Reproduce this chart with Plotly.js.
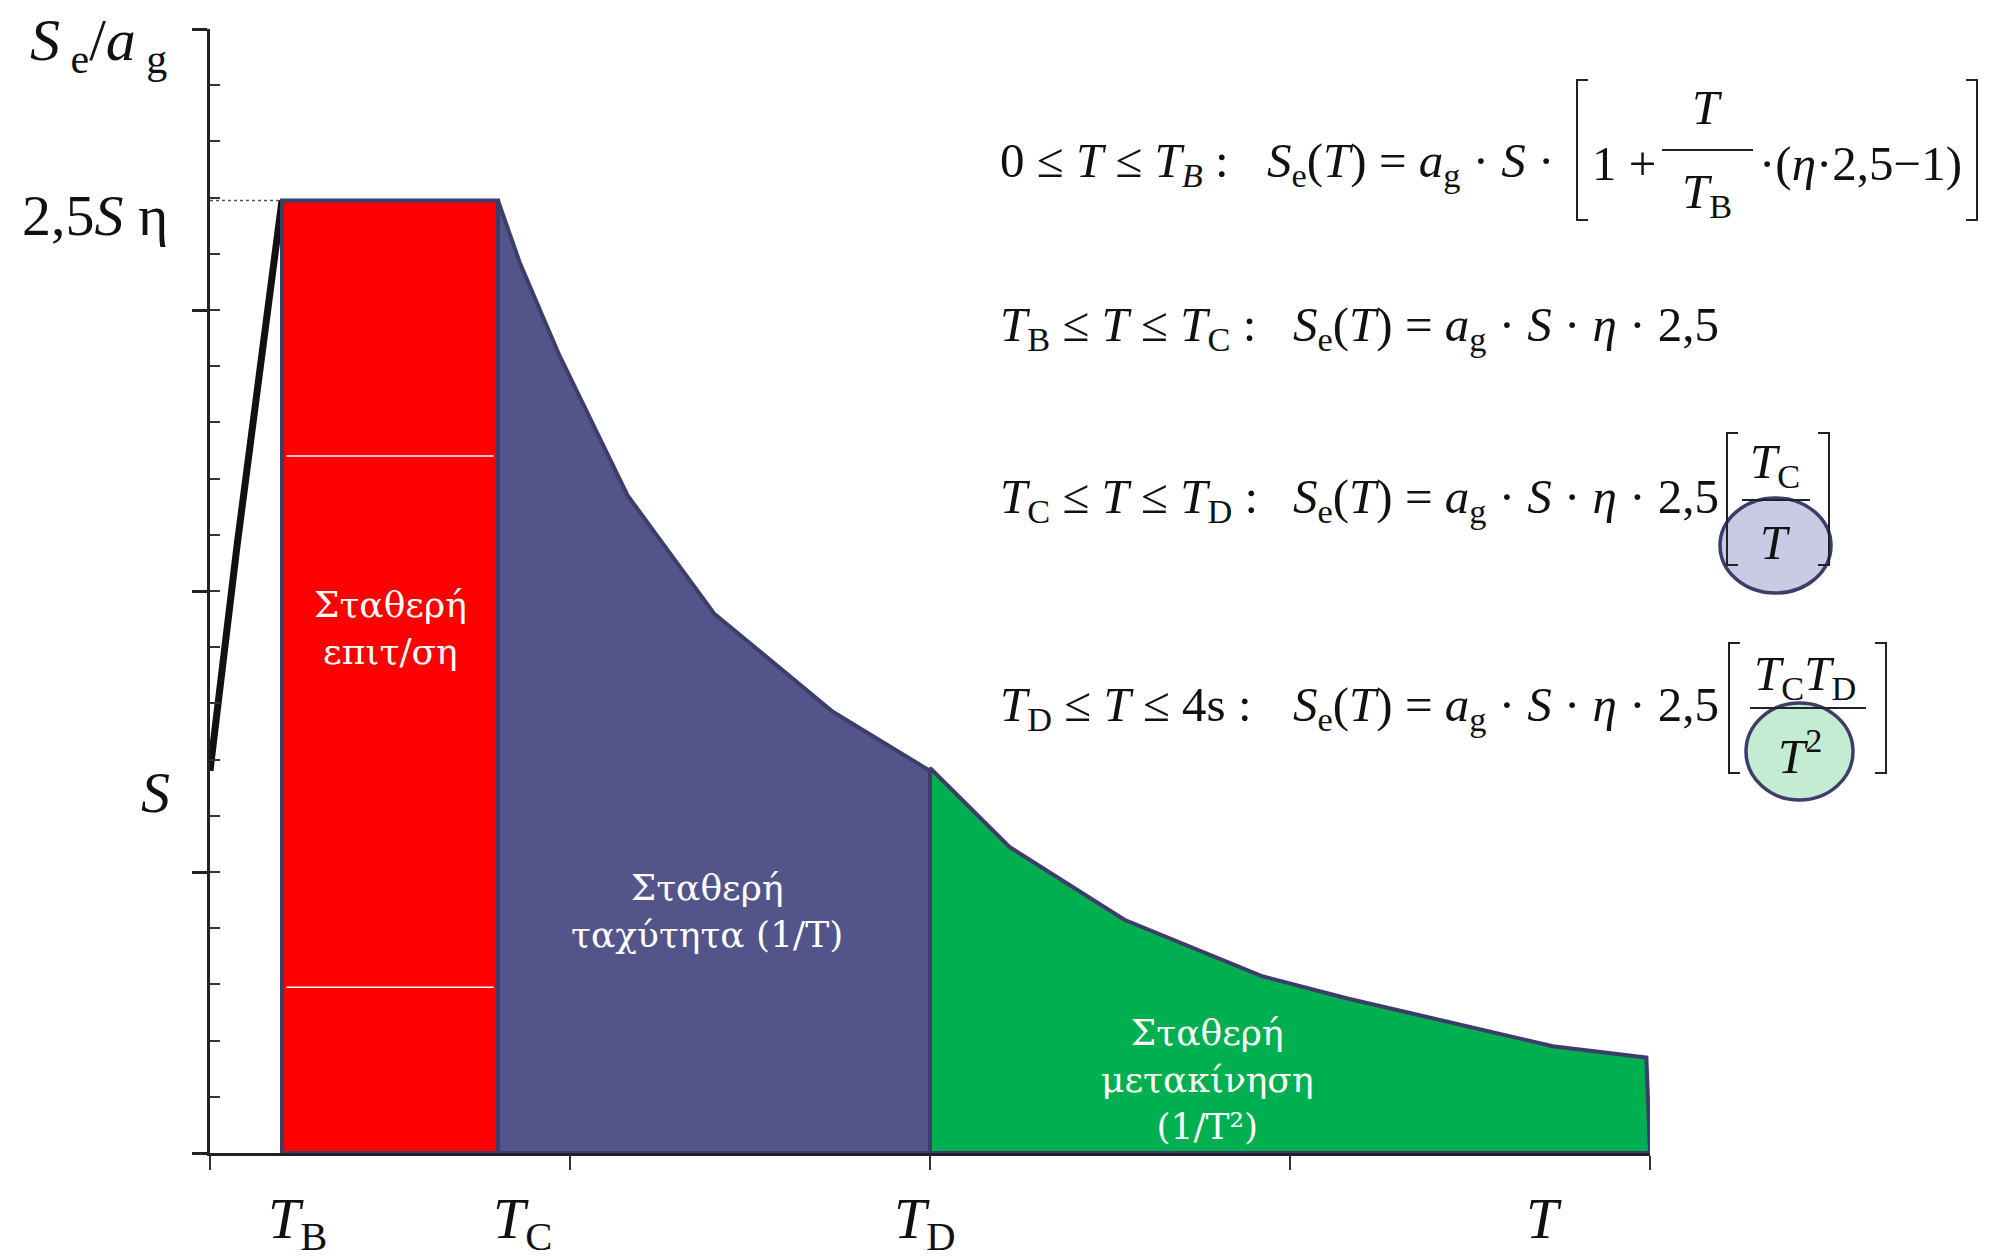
<!DOCTYPE html>
<html>
<head>
<meta charset="utf-8">
<script src="https://cdn.plot.ly/plotly-3.0.1.min.js"></script>
<style>
html,body{margin:0;padding:0;background:#fff;}
#chart{width:1998px;height:1258px;}
</style>
</head>
<body>
<div id="chart"></div>
<script>
// ---- data (T in s, y in axis units) ----
const T_B = 0.2, T_C = 0.8, T_D = 2.0, T_END = 4.0;
const plateau = 3.39;          // 2,5 S η
const S_level = 1.36;          // S
const riseT = [0, 0.075, 0.2];
const riseY = [1.36, 2.16, 3.39];
const blueT = [0.8, 0.86, 0.97, 1.16, 1.40, 1.73, 2.0];
const blueY = [3.39, 3.17, 2.84, 2.34, 1.92, 1.57, 1.36];
const greenT = [2.0, 2.22, 2.54, 2.92, 3.16, 3.73, 3.99];
const greenY = [1.37, 1.09, 0.83, 0.63, 0.55, 0.38, 0.34];
const whiteLineY = [2.48, 0.59];
const regionLabels = ["Σταθερή<br>επιτ/ση", "Σταθερή<br>ταχύτητα (1/T)", "Σταθερή<br>μετακίνηση<br>(1/T²)"];
const regionLabelPos = [[0.5, 1.87], [1.38, 0.86], [2.77, 0.26]];
const periodTicks = [T_B, T_C, T_D];
const periodTickText = ["<i>T</i><sub>B</sub>", "<i>T</i><sub>C</sub>", "<i>T</i><sub>D</sub>"];

// ---- styling ----
const NAVY = '#3c3d6b';
const SERIF = '"Liberation Serif", "Times New Roman", serif';
const GREEKSERIF = '"DejaVu Serif", serif';
const FS = 49;

const traces = [];
// blue region (1/T)
traces.push({
  x: [T_C].concat(blueT, [T_D, T_C]),
  y: [0].concat(blueY, [0, 0]),
  mode: 'lines', fill: 'toself', fillcolor: '#53558A',
  line: {color: NAVY, width: 4}, hoverinfo: 'skip'
});
// green region (1/T^2)
traces.push({
  x: [T_D].concat(greenT, [T_END, T_D]),
  y: [0].concat(greenY, [0, 0]),
  mode: 'lines', fill: 'toself', fillcolor: '#00AF50',
  line: {color: NAVY, width: 4}, hoverinfo: 'skip'
});
// rising branch
traces.push({
  x: riseT, y: riseY, mode: 'lines',
  line: {color: '#111', width: 7}, hoverinfo: 'skip'
});
// red plateau
traces.push({
  x: [T_B, T_C, T_C, T_B, T_B],
  y: [0, 0, plateau, plateau, 0],
  mode: 'lines', fill: 'toself', fillcolor: '#FF0000',
  line: {color: NAVY, width: 4}, hoverinfo: 'skip'
});
// thin white lines inside red
const wx = [], wy = [];
whiteLineY.forEach(v => { wx.push(T_B + 0.012, T_C - 0.012, null); wy.push(v, v, null); });
traces.push({x: wx, y: wy, mode: 'lines', line: {color: '#ffffff', width: 1.5}, hoverinfo: 'skip'});
// dotted reference at plateau (on overlay axis so it is drawn)
traces.push({
  x: [0, T_B], y: [plateau, plateau], yaxis: 'y2', mode: 'lines',
  line: {color: '#555', width: 1.5, dash: 'dot'}, hoverinfo: 'skip'
});

// ---- pixel helpers for decoration placement (paper coords) ----
const PL = 210, PT = 29, PW = 1440, PH = 1124;
const fx = p => (p - PL) / PW;
const fy = p => (PT + PH - p) / PH;

const annotations = [];
function mtxt(text, px, py, anchor, size) {
  annotations.push({
    text: text, xref: 'paper', yref: 'paper', x: fx(px), y: fy(py),
    xanchor: anchor || 'left', yanchor: 'middle', showarrow: false,
    font: {family: SERIF, size: size || FS, color: '#111'}
  });
}

// region labels
regionLabels.forEach((t, i) => {
  annotations.push({
    text: t, xref: 'x', yref: 'y', x: regionLabelPos[i][0], y: regionLabelPos[i][1],
    showarrow: false, xanchor: 'center', yanchor: 'middle', align: 'center',
    font: {family: GREEKSERIF, size: 36, color: '#ffffff'}
  });
});

// axis labels
annotations.push({text: '<i>S</i><sub> e</sub>/<i>a</i><sub> g</sub>', xref: 'paper', yref: 'paper',
  x: fx(28), y: fy(45), xanchor: 'left', yanchor: 'middle', showarrow: false,
  font: {family: SERIF, size: 60, color: '#111'}});
annotations.push({text: '2,5<i>S</i> η', xref: 'paper', yref: 'y', x: fx(170), y: plateau, yshift: -15,
  xanchor: 'right', yanchor: 'middle', showarrow: false, font: {family: SERIF, size: 58, color: '#111'}});
annotations.push({text: '<i>S</i>', xref: 'paper', yref: 'y', x: fx(172), y: S_level, yshift: -22,
  xanchor: 'right', yanchor: 'middle', showarrow: false, font: {family: SERIF, size: 58, color: '#111'}});
const tShift = [15, 24, -5];
periodTicks.forEach((t, i) => {
  annotations.push({text: periodTickText[i], xref: 'x', yref: 'paper', x: t, xshift: tShift[i], y: fy(1222),
    xanchor: 'center', yanchor: 'middle', showarrow: false, font: {family: SERIF, size: 58, color: '#111'}});
});
annotations.push({text: '<i>T</i>', xref: 'paper', yref: 'paper', x: fx(1544), y: fy(1218),
  xanchor: 'center', yanchor: 'middle', showarrow: false, font: {family: SERIF, size: 58, color: '#111'}});

// formulas
const seRHS = '<i>S</i><sub>e</sub>(<i>T</i>) = <i>a</i><sub>g</sub> · <i>S</i> ·';
// F1
mtxt('0 ≤ <i>T</i> ≤ <i>T<sub>B</sub></i> :', 998, 163);
mtxt(seRHS, 1265, 163);
mtxt('1 +', 1590, 163);
mtxt('<i>T</i>', 1707, 108, 'center');
mtxt('<i>T</i><sub>B</sub>', 1707, 194, 'center');
mtxt('·(<i>η</i>·2,5−1)', 1757, 163);
// F2
mtxt('<i>T</i><sub>B</sub> ≤ <i>T</i> ≤ <i>T</i><sub>C</sub> :', 998, 327);
mtxt(seRHS + ' <i>η</i> · 2,5', 1291, 327);
// F3
mtxt('<i>T</i><sub>C</sub> ≤ <i>T</i> ≤ <i>T</i><sub>D</sub> :', 998, 500);
mtxt(seRHS + ' <i>η</i> · 2,5', 1291, 500);
mtxt('<i>T</i><sub>C</sub>', 1775, 465, 'center');
mtxt('<i>T</i>', 1775, 542, 'center');
// F4
mtxt('<i>T</i><sub>D</sub> ≤ <i>T</i> ≤ 4s :', 998, 707);
mtxt(seRHS + ' <i>η</i> · 2,5', 1291, 707);
mtxt('<i>T</i><sub>C</sub><i>T</i><sub>D</sub>', 1805, 677, 'center');
mtxt('<i>T</i><sup>2</sup>', 1800, 752, 'center');

// shapes
const shapes = [];
function bracket(px, y0, y1, dir) {
  const s = dir * 11;
  shapes.push({type: 'path', xref: 'paper', yref: 'paper',
    path: `M ${fx(px + s)},${fy(y0)} L ${fx(px)},${fy(y0)} L ${fx(px)},${fy(y1)} L ${fx(px + s)},${fy(y1)}`,
    line: {color: '#222', width: 2}});
}
function hline(a, b, py) {
  shapes.push({type: 'line', xref: 'paper', yref: 'paper', x0: fx(a), x1: fx(b), y0: fy(py), y1: fy(py),
    line: {color: '#222', width: 2}});
}
function ellipse(a, b, c, d, fill) {
  shapes.push({type: 'circle', xref: 'paper', yref: 'paper', x0: fx(a), x1: fx(b), y0: fy(c), y1: fy(d),
    fillcolor: fill, line: {color: NAVY, width: 3.5}});
}
// F1
bracket(1577, 80, 220, 1); bracket(1977, 80, 220, -1); hline(1662, 1753, 150);
// F3
ellipse(1720, 1831, 498, 593, '#c9cae3');
bracket(1727, 433, 565, 1); bracket(1829, 433, 565, -1); hline(1742, 1810, 500);
// F4
ellipse(1746, 1853, 703, 800, '#c3ecd2');
bracket(1729, 643, 773, 1); bracket(1886, 643, 773, -1); hline(1750, 1866, 708);

const layout = {
  width: 1998, height: 1258,
  margin: {l: PL, r: 1998 - PL - PW, t: PT, b: 1258 - PT - PH},
  paper_bgcolor: '#ffffff', plot_bgcolor: '#ffffff',
  showlegend: false,
  xaxis: {range: [0, 4], showgrid: false, zeroline: false, showline: true, linecolor: '#222', linewidth: 3,
    ticks: 'outside', tickmode: 'linear', tick0: 0, dtick: 1, ticklen: 14, tickwidth: 2, tickcolor: '#333',
    showticklabels: false, fixedrange: true},
  yaxis: {range: [0, 4], showgrid: false, zeroline: false, showline: true, linecolor: '#222', linewidth: 3,
    ticks: 'outside', tickmode: 'linear', tick0: 0, dtick: 1, ticklen: 15, tickwidth: 3, tickcolor: '#222',
    showticklabels: false, fixedrange: true},
  yaxis2: {range: [0, 4], overlaying: 'y', side: 'left', anchor: 'x', showgrid: false, zeroline: false,
    showline: false, ticks: 'inside', tickmode: 'linear', tick0: 0, dtick: 0.2, ticklen: 10, tickwidth: 2,
    tickcolor: '#333', showticklabels: false, fixedrange: true},
  annotations: annotations,
  shapes: shapes
};

Plotly.newPlot('chart', traces, layout, {staticPlot: true, displayModeBar: false});
</script>
</body>
</html>
